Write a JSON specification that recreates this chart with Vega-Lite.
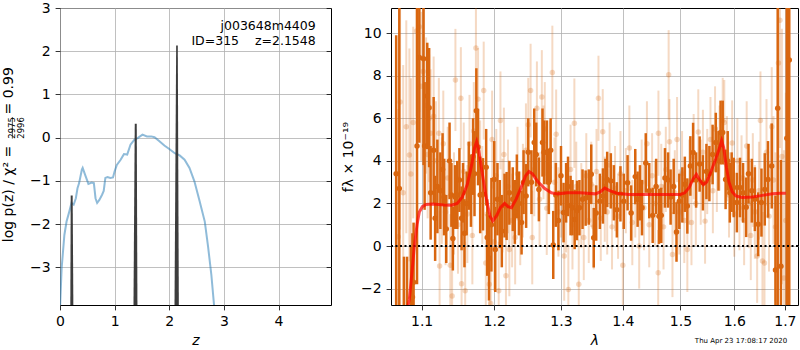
{
  "$schema": "https://vega.github.io/schema/vega-lite/v6.json",
  "background": "white",
  "padding": {"left": 1, "top": 0, "right": 0, "bottom": 0},
  "spacing": 9,
  "config": {
    "font": "DejaVu Sans",
    "view": {"stroke": "black", "strokeWidth": 1},
    "axis": {
      "domain": false, "grid": true, "gridColor": "#b0b0b0", "gridWidth": 0.8,
      "tickColor": "black", "tickSize": 4.9, "tickWidth": 0.8,
      "labelFont": "DejaVu Sans", "labelFontSize": 14, "labelColor": "black", "labelPadding": 4.9,
      "labelFlush": false, "labelOverlap": false,
      "titleFont": "DejaVu Sans", "titleFontSize": 14, "titleFontWeight": "normal", "titleColor": "black"
    }
  },
  "datasets": {
    "curve": [
      {"z":0.0,"lp":-3.95},{"z":0.03,"lp":-3.02},{"z":0.08,"lp":-2.25},{"z":0.12,"lp":-1.94},{"z":0.17,"lp":-1.71},
      {"z":0.21,"lp":-1.51},{"z":0.25,"lp":-1.55},{"z":0.29,"lp":-1.40},{"z":0.32,"lp":-1.17},{"z":0.35,"lp":-1.05},
      {"z":0.40,"lp":-0.74},{"z":0.415,"lp":-0.70},{"z":0.46,"lp":-0.86},{"z":0.52,"lp":-1.07},{"z":0.58,"lp":-1.04},
      {"z":0.62,"lp":-1.05},{"z":0.65,"lp":-1.40},{"z":0.68,"lp":-1.51},{"z":0.72,"lp":-1.44},{"z":0.77,"lp":-1.32},
      {"z":0.80,"lp":-1.23},{"z":0.83,"lp":-0.93},{"z":0.87,"lp":-0.91},{"z":0.92,"lp":-0.93},{"z":0.97,"lp":-0.92},
      {"z":1.0,"lp":-0.78},{"z":1.04,"lp":-0.63},{"z":1.11,"lp":-0.51},{"z":1.17,"lp":-0.38},{"z":1.23,"lp":-0.39},
      {"z":1.29,"lp":-0.16},{"z":1.36,"lp":-0.05},{"z":1.42,"lp":-0.01},{"z":1.51,"lp":0.07},{"z":1.59,"lp":0.03},
      {"z":1.67,"lp":0.03},{"z":1.73,"lp":0.01},{"z":1.82,"lp":-0.08},{"z":1.91,"lp":-0.18},{"z":2.00,"lp":-0.26},
      {"z":2.10,"lp":-0.36},{"z":2.19,"lp":-0.41},{"z":2.28,"lp":-0.51},{"z":2.37,"lp":-0.70},{"z":2.46,"lp":-1.01},
      {"z":2.55,"lp":-1.44},{"z":2.65,"lp":-1.94},{"z":2.71,"lp":-2.52},{"z":2.77,"lp":-3.17},{"z":2.82,"lp":-3.88},
      {"z":2.86,"lp":-4.5}
    ],
    "spikes": [
      {"k":1,"z":0.188,"lp":-4.2},{"k":1,"z":0.196,"lp":-1.34},{"k":1,"z":0.232,"lp":-1.34},{"k":1,"z":0.246,"lp":-4.2},
      {"k":2,"z":1.343,"lp":-4.2},{"k":2,"z":1.368,"lp":0.32},{"k":2,"z":1.405,"lp":0.32},{"k":2,"z":1.418,"lp":-4.2},
      {"k":3,"z":2.094,"lp":-4.2},{"k":3,"z":2.126,"lp":2.13},{"k":3,"z":2.156,"lp":2.13},{"k":3,"z":2.176,"lp":-4.2}
    ],
    "model": [
      {"l":1.078,"f":-3.5},{"l":1.084,"f":-2.5},{"l":1.088,"f":-1.0},{"l":1.0905,"f":0},{"l":1.094,"f":1.0},
      {"l":1.097,"f":1.6},{"l":1.101,"f":1.85},{"l":1.106,"f":1.95},{"l":1.115,"f":1.97},{"l":1.13,"f":1.93},
      {"l":1.14,"f":1.92},{"l":1.148,"f":2.0},{"l":1.155,"f":2.3},{"l":1.162,"f":2.9},{"l":1.168,"f":3.8},
      {"l":1.172,"f":4.6},{"l":1.175,"f":4.9},{"l":1.178,"f":4.5},{"l":1.183,"f":3.4},{"l":1.189,"f":2.2},
      {"l":1.194,"f":1.4},{"l":1.198,"f":1.18},{"l":1.203,"f":1.4},{"l":1.209,"f":1.8},{"l":1.215,"f":2.0},
      {"l":1.220,"f":1.85},{"l":1.225,"f":1.8},{"l":1.232,"f":2.2},{"l":1.240,"f":2.8},{"l":1.246,"f":3.3},
      {"l":1.251,"f":3.5},{"l":1.256,"f":3.4},{"l":1.265,"f":3.0},{"l":1.275,"f":2.7},{"l":1.285,"f":2.5},
      {"l":1.295,"f":2.45},{"l":1.31,"f":2.5},{"l":1.33,"f":2.5},{"l":1.355,"f":2.45},{"l":1.363,"f":2.55},
      {"l":1.370,"f":2.72},{"l":1.378,"f":2.6},{"l":1.39,"f":2.48},{"l":1.41,"f":2.42},{"l":1.45,"f":2.42},
      {"l":1.50,"f":2.42},{"l":1.508,"f":2.5},{"l":1.516,"f":2.75},{"l":1.523,"f":3.15},{"l":1.529,"f":3.37},
      {"l":1.535,"f":3.1},{"l":1.542,"f":2.88},{"l":1.548,"f":3.0},{"l":1.556,"f":3.5},{"l":1.565,"f":4.1},
      {"l":1.572,"f":4.6},{"l":1.576,"f":4.95},{"l":1.580,"f":4.6},{"l":1.585,"f":3.7},{"l":1.590,"f":3.0},
      {"l":1.596,"f":2.55},{"l":1.603,"f":2.35},{"l":1.615,"f":2.28},{"l":1.635,"f":2.3},{"l":1.655,"f":2.38},
      {"l":1.675,"f":2.45},{"l":1.69,"f":2.48},{"l":1.702,"f":2.48}
    ],
    "dark": [
      {"l":1.067,"f":3.4,"e":6.5},{"l":1.071,"f":2.7,"e":10},{"l":1.077,"f":-4.0,"e":3.5},{"l":1.081,"f":-3.5,"e":3.0},
      {"l":1.086,"f":-3.0,"e":3.0},{"l":1.088,"f":-2.4,"e":3.0},{"l":1.0895,"f":-1.7,"e":2.8},{"l":1.094,"f":4.7,"e":6.5},
      {"l":1.097,"f":8.85,"e":4.0},{"l":1.1026,"f":8.8,"e":5.0},{"l":1.104,"f":4.7,"e":3.0},{"l":1.1075,"f":7.05,"e":2.5},
      {"l":1.110,"f":6.5,"e":2.8},{"l":1.112,"f":2.5,"e":2.2},{"l":1.116,"f":4.5,"e":2.5},{"l":1.118,"f":1.3,"e":2.0},
      {"l":1.121,"f":2.8,"e":2.2},{"l":1.125,"f":2.6,"e":1.8},{"l":1.128,"f":3.6,"e":1.7},{"l":1.130,"f":2.3,"e":1.8},
      {"l":1.133,"f":0.8,"e":1.6},{"l":1.1375,"f":4.0,"e":1.8},{"l":1.140,"f":2.4,"e":1.5},{"l":1.142,"f":0.35,"e":1.5},
      {"l":1.145,"f":2.3,"e":1.5},{"l":1.148,"f":2.4,"e":1.6},{"l":1.151,"f":3.1,"e":1.5},{"l":1.154,"f":1.3,"e":1.5},
      {"l":1.156,"f":2.5,"e":1.4},{"l":1.158,"f":0.6,"e":1.6},{"l":1.161,"f":2.0,"e":1.5},{"l":1.164,"f":3.3,"e":1.6},
      {"l":1.167,"f":2.6,"e":1.7},{"l":1.170,"f":4.2,"e":1.8},{"l":1.172,"f":3.4,"e":2.0},{"l":1.1746,"f":6.35,"e":2.0},
      {"l":1.177,"f":4.65,"e":1.8},{"l":1.180,"f":2.4,"e":1.8},{"l":1.184,"f":2.43,"e":1.7},{"l":1.1885,"f":3.7,"e":1.8},
      {"l":1.190,"f":0.4,"e":1.8},{"l":1.1925,"f":-0.56,"e":2.0},{"l":1.196,"f":1.0,"e":2.2},{"l":1.200,"f":3.13,"e":1.8},
      {"l":1.2015,"f":-0.16,"e":2.0},{"l":1.2047,"f":2.2,"e":1.7},{"l":1.208,"f":1.5,"e":1.6},{"l":1.211,"f":0.7,"e":1.7},
      {"l":1.215,"f":1.9,"e":1.5},{"l":1.218,"f":1.88,"e":1.6},{"l":1.222,"f":2.5,"e":1.5},{"l":1.227,"f":2.2,"e":1.5},
      {"l":1.230,"f":1.6,"e":1.5},{"l":1.233,"f":2.8,"e":1.5},{"l":1.236,"f":2.0,"e":1.5},{"l":1.240,"f":1.1,"e":1.5},
      {"l":1.243,"f":3.0,"e":1.5},{"l":1.2468,"f":2.35,"e":1.5},{"l":1.250,"f":4.4,"e":1.6},{"l":1.2548,"f":3.0,"e":1.5},
      {"l":1.259,"f":4.86,"e":1.6},{"l":1.262,"f":4.3,"e":1.5},{"l":1.266,"f":2.66,"e":1.5},{"l":1.2715,"f":4.86,"e":1.6},
      {"l":1.274,"f":4.4,"e":1.5},{"l":1.278,"f":4.4,"e":1.5},{"l":1.281,"f":3.0,"e":1.5},{"l":1.284,"f":4.5,"e":1.5},
      {"l":1.288,"f":0.05,"e":1.6},{"l":1.292,"f":2.4,"e":1.5},{"l":1.296,"f":1.2,"e":1.4},{"l":1.300,"f":3.3,"e":1.4},
      {"l":1.304,"f":1.57,"e":1.4},{"l":1.308,"f":2.5,"e":1.4},{"l":1.311,"f":2.8,"e":1.4},{"l":1.315,"f":1.9,"e":1.4},
      {"l":1.318,"f":1.8,"e":1.3},{"l":1.3215,"f":1.25,"e":1.4},{"l":1.3253,"f":1.67,"e":1.4},{"l":1.329,"f":1.8,"e":1.3},
      {"l":1.334,"f":2.2,"e":1.4},{"l":1.339,"f":2.25,"e":1.3},{"l":1.344,"f":2.3,"e":1.3},{"l":1.348,"f":3.37,"e":1.4},
      {"l":1.352,"f":0.39,"e":1.4},{"l":1.356,"f":1.55,"e":1.3},{"l":1.362,"f":2.1,"e":1.3},{"l":1.367,"f":2.35,"e":1.3},
      {"l":1.371,"f":2.8,"e":1.3},{"l":1.374,"f":3.13,"e":1.3},{"l":1.380,"f":3.06,"e":1.3},{"l":1.385,"f":2.5,"e":1.3},
      {"l":1.390,"f":1.7,"e":1.3},{"l":1.396,"f":2.45,"e":1.3},{"l":1.4015,"f":2.1,"e":1.3},{"l":1.408,"f":2.97,"e":1.3},
      {"l":1.414,"f":1.55,"e":1.3},{"l":1.421,"f":3.26,"e":1.3},{"l":1.425,"f":2.2,"e":1.3},{"l":1.429,"f":2.5,"e":1.3},
      {"l":1.4325,"f":1.8,"e":1.3},{"l":1.439,"f":3.9,"e":1.4},{"l":1.445,"f":2.6,"e":1.3},{"l":1.451,"f":1.44,"e":1.3},
      {"l":1.457,"f":2.8,"e":1.3},{"l":1.462,"f":1.4,"e":1.3},{"l":1.466,"f":1.44,"e":1.3},{"l":1.4725,"f":3.2,"e":1.4},
      {"l":1.478,"f":3.1,"e":1.3},{"l":1.4825,"f":2.3,"e":1.3},{"l":1.488,"f":2.8,"e":1.3},{"l":1.493,"f":0.66,"e":1.4},
      {"l":1.498,"f":2.1,"e":1.3},{"l":1.5035,"f":2.4,"e":1.3},{"l":1.508,"f":2.9,"e":1.3},{"l":1.5125,"f":1.88,"e":1.3},
      {"l":1.518,"f":3.76,"e":1.4},{"l":1.523,"f":4.39,"e":1.4},{"l":1.5285,"f":3.1,"e":1.3},{"l":1.535,"f":3.85,"e":1.3},
      {"l":1.541,"f":2.97,"e":1.3},{"l":1.5475,"f":3.5,"e":1.3},{"l":1.553,"f":3.4,"e":1.3},{"l":1.559,"f":4.3,"e":1.4},
      {"l":1.565,"f":4.86,"e":1.4},{"l":1.570,"f":4.0,"e":1.4},{"l":1.574,"f":5.33,"e":1.5},{"l":1.578,"f":5.33,"e":1.5},
      {"l":1.5835,"f":3.13,"e":1.4},{"l":1.5875,"f":4.0,"e":1.4},{"l":1.5915,"f":2.5,"e":1.4},{"l":1.595,"f":3.0,"e":1.4},
      {"l":1.599,"f":2.75,"e":1.4},{"l":1.605,"f":2.04,"e":1.4},{"l":1.611,"f":2.75,"e":1.4},{"l":1.617,"f":2.5,"e":1.4},
      {"l":1.623,"f":1.82,"e":1.4},{"l":1.6275,"f":3.4,"e":1.4},{"l":1.634,"f":2.6,"e":1.5},{"l":1.640,"f":2.2,"e":1.5},
      {"l":1.6465,"f":1.02,"e":1.5},{"l":1.653,"f":2.04,"e":1.6},{"l":1.6595,"f":2.66,"e":1.7},{"l":1.666,"f":3.13,"e":1.8},
      {"l":1.6735,"f":3.76,"e":2.0},{"l":1.681,"f":-1.13,"e":3.5},{"l":1.6855,"f":6.47,"e":9.5},{"l":1.692,"f":-0.95,"e":5.0},
      {"l":1.704,"f":5.06,"e":20},{"l":1.709,"f":8.74,"e":20}
    ],
    "light": [
      {"l":1.0697,"f":0.44,"e":6.0},{"l":1.072,"f":6.77,"e":6.0},{"l":1.076,"f":2.5,"e":6.0},{"l":1.080,"f":5.6,"e":5.0},
      {"l":1.084,"f":4.28,"e":5.0},{"l":1.086,"f":3.38,"e":4.5},{"l":1.089,"f":5.8,"e":4.5},{"l":1.0935,"f":10.1,"e":4.0},
      {"l":1.097,"f":10.3,"e":4.0},{"l":1.0995,"f":7.5,"e":3.5},{"l":1.102,"f":8.2,"e":3.5},{"l":1.106,"f":6.6,"e":3.2},
      {"l":1.108,"f":4.3,"e":3.0},{"l":1.110,"f":6.0,"e":3.0},{"l":1.112,"f":5.3,"e":3.0},{"l":1.116,"f":6.1,"e":2.8},
      {"l":1.119,"f":4.0,"e":2.8},{"l":1.123,"f":5.3,"e":2.6},{"l":1.124,"f":-0.94,"e":2.6},{"l":1.127,"f":2.6,"e":2.5},
      {"l":1.129,"f":4.8,"e":2.5},{"l":1.132,"f":1.6,"e":2.5},{"l":1.135,"f":3.2,"e":2.4},{"l":1.1385,"f":-0.9,"e":2.4},
      {"l":1.141,"f":-2.35,"e":2.4},{"l":1.1435,"f":2.0,"e":2.4},{"l":1.1455,"f":7.8,"e":2.4},{"l":1.149,"f":1.0,"e":2.3},
      {"l":1.153,"f":6.94,"e":2.4},{"l":1.154,"f":-1.77,"e":2.3},{"l":1.157,"f":3.5,"e":2.3},{"l":1.159,"f":-2.1,"e":2.3},
      {"l":1.162,"f":1.5,"e":2.3},{"l":1.165,"f":4.8,"e":2.3},{"l":1.169,"f":0.5,"e":2.3},{"l":1.171,"f":5.4,"e":2.3},
      {"l":1.174,"f":9.3,"e":2.4},{"l":1.177,"f":6.9,"e":2.4},{"l":1.180,"f":3.6,"e":2.3},{"l":1.183,"f":2.4,"e":2.3},
      {"l":1.185,"f":7.3,"e":2.3},{"l":1.188,"f":-0.8,"e":2.3},{"l":1.190,"f":1.5,"e":2.3},{"l":1.193,"f":-1.8,"e":2.3},
      {"l":1.195,"f":-2.7,"e":2.5},{"l":1.197,"f":5.0,"e":2.3},{"l":1.200,"f":0.2,"e":2.3},{"l":1.203,"f":3.3,"e":2.2},
      {"l":1.2065,"f":-2.1,"e":2.3},{"l":1.209,"f":5.9,"e":2.3},{"l":1.212,"f":1.9,"e":2.2},{"l":1.214,"f":4.3,"e":2.2},
      {"l":1.217,"f":-1.4,"e":2.2},{"l":1.220,"f":2.8,"e":2.2},{"l":1.222,"f":-0.16,"e":2.2},{"l":1.226,"f":1.2,"e":2.2},
      {"l":1.2305,"f":0.4,"e":2.2},{"l":1.234,"f":3.4,"e":2.2},{"l":1.238,"f":1.3,"e":2.2},{"l":1.242,"f":2.6,"e":2.2},
      {"l":1.2465,"f":4.5,"e":2.2},{"l":1.250,"f":5.7,"e":2.2},{"l":1.2535,"f":7.3,"e":2.2},{"l":1.256,"f":0.4,"e":2.2},
      {"l":1.259,"f":3.6,"e":2.2},{"l":1.263,"f":6.47,"e":2.2},{"l":1.267,"f":2.2,"e":2.2},{"l":1.2705,"f":7.0,"e":2.2},
      {"l":1.273,"f":4.4,"e":2.2},{"l":1.275,"f":5.5,"e":2.2},{"l":1.278,"f":1.78,"e":2.2},{"l":1.282,"f":3.7,"e":2.2},
      {"l":1.2866,"f":8.15,"e":2.2},{"l":1.290,"f":3.0,"e":2.1},{"l":1.2925,"f":5.25,"e":2.1},{"l":1.296,"f":1.6,"e":2.1},
      {"l":1.300,"f":2.5,"e":2.1},{"l":1.305,"f":-0.47,"e":2.1},{"l":1.308,"f":1.8,"e":2.1},{"l":1.3115,"f":-2.04,"e":2.1},
      {"l":1.315,"f":3.6,"e":2.1},{"l":1.318,"f":1.0,"e":2.1},{"l":1.321,"f":5.77,"e":2.1},{"l":1.324,"f":2.8,"e":2.1},
      {"l":1.328,"f":-1.8,"e":2.1},{"l":1.332,"f":1.9,"e":2.0},{"l":1.336,"f":0.4,"e":2.0},{"l":1.340,"f":3.3,"e":2.0},
      {"l":1.344,"f":1.2,"e":2.0},{"l":1.348,"f":2.9,"e":2.0},{"l":1.352,"f":0.9,"e":2.0},{"l":1.3565,"f":3.5,"e":2.0},
      {"l":1.3597,"f":6.94,"e":2.0},{"l":1.3635,"f":1.3,"e":2.0},{"l":1.3667,"f":5.37,"e":2.0},{"l":1.370,"f":2.2,"e":2.0},
      {"l":1.374,"f":1.6,"e":2.0},{"l":1.378,"f":3.8,"e":2.0},{"l":1.382,"f":0.9,"e":2.0},{"l":1.387,"f":2.7,"e":2.0},
      {"l":1.392,"f":1.4,"e":2.0},{"l":1.396,"f":3.4,"e":2.0},{"l":1.400,"f":-0.9,"e":2.0},{"l":1.405,"f":2.6,"e":2.0},
      {"l":1.411,"f":4.6,"e":2.0},{"l":1.416,"f":1.1,"e":2.0},{"l":1.421,"f":2.4,"e":2.0},{"l":1.4277,"f":0.0,"e":2.0},
      {"l":1.432,"f":3.0,"e":2.0},{"l":1.436,"f":1.8,"e":2.0},{"l":1.441,"f":4.8,"e":2.0},{"l":1.445,"f":1.0,"e":2.0},
      {"l":1.450,"f":3.3,"e":2.0},{"l":1.455,"f":2.0,"e":2.0},{"l":1.4606,"f":-1.25,"e":2.0},{"l":1.461,"f":5.3,"e":2.0},
      {"l":1.466,"f":2.8,"e":2.0},{"l":1.470,"f":0.9,"e":2.0},{"l":1.474,"f":3.6,"e":2.0},{"l":1.479,"f":8.04,"e":2.1},
      {"l":1.4805,"f":4.9,"e":2.0},{"l":1.4858,"f":-0.4,"e":2.0},{"l":1.490,"f":2.5,"e":2.0},{"l":1.494,"f":5.0,"e":2.0},
      {"l":1.498,"f":1.6,"e":2.0},{"l":1.503,"f":3.4,"e":2.0},{"l":1.507,"f":1.2,"e":2.0},{"l":1.5125,"f":-0.16,"e":2.0},
      {"l":1.516,"f":3.0,"e":2.0},{"l":1.520,"f":1.1,"e":2.0},{"l":1.524,"f":4.2,"e":2.0},{"l":1.528,"f":2.0,"e":2.0},
      {"l":1.5325,"f":5.36,"e":2.0},{"l":1.537,"f":3.0,"e":2.0},{"l":1.541,"f":4.4,"e":2.0},{"l":1.545,"f":1.17,"e":2.0},
      {"l":1.549,"f":3.5,"e":2.0},{"l":1.555,"f":5.0,"e":2.0},{"l":1.5595,"f":2.6,"e":2.0},{"l":1.5636,"f":5.5,"e":2.0},
      {"l":1.567,"f":3.6,"e":2.0},{"l":1.572,"f":4.6,"e":2.0},{"l":1.578,"f":5.9,"e":2.0},{"l":1.581,"f":5.8,"e":2.0},
      {"l":1.586,"f":4.1,"e":2.0},{"l":1.590,"f":2.4,"e":2.0},{"l":1.596,"f":4.84,"e":2.0},{"l":1.600,"f":1.5,"e":2.0},
      {"l":1.606,"f":4.0,"e":2.0},{"l":1.610,"f":1.8,"e":2.0},{"l":1.614,"f":3.2,"e":2.0},{"l":1.619,"f":1.2,"e":2.1},
      {"l":1.624,"f":4.7,"e":2.1},{"l":1.628,"f":2.0,"e":2.1},{"l":1.632,"f":0.5,"e":2.1},{"l":1.636,"f":3.1,"e":2.2},
      {"l":1.640,"f":1.6,"e":2.2},{"l":1.6445,"f":-0.47,"e":2.2},{"l":1.648,"f":2.6,"e":2.3},{"l":1.651,"f":5.9,"e":2.3},
      {"l":1.655,"f":-0.7,"e":2.3},{"l":1.659,"f":-0.8,"e":2.4},{"l":1.663,"f":4.4,"e":2.5},{"l":1.668,"f":1.4,"e":2.6},
      {"l":1.6735,"f":5.6,"e":2.8},{"l":1.677,"f":3.1,"e":3.0},{"l":1.681,"f":0.9,"e":3.5},{"l":1.687,"f":8.6,"e":5.0},
      {"l":1.690,"f":10.6,"e":6.0},{"l":1.694,"f":4.2,"e":6.0},{"l":1.698,"f":-1.5,"e":6.0},{"l":1.702,"f":1.2,"e":6.0}
    ]
  },
  "hconcat": [
    {
      "width": 271,
      "height": 297,
      "resolve": {"axis": {"y": "independent"}},
      "layer": [
        {
          "data": {"name": "curve"},
          "mark": {"type": "line", "color": "#1f77b4", "opacity": 0.5, "strokeWidth": 2, "clip": true},
          "encoding": {
            "x": {"field": "z", "type": "quantitative", "scale": {"domain": [0, 4.96], "nice": false, "zero": false},
                  "axis": {"values": [0, 1, 2, 3, 4], "title": "z", "titleFontStyle": "italic", "titlePadding": 5}},
            "y": {"field": "lp", "type": "quantitative", "scale": {"domain": [-3.87, 3], "nice": false, "zero": false},
                  "axis": {"values": [-3, -2, -1, 0, 1, 2, 3], "title": null}}
          }
        },
        {
          "data": {"name": "spikes"},
          "mark": {"type": "area", "color": "#333333", "opacity": 0.95, "clip": true},
          "encoding": {
            "x": {"field": "z", "type": "quantitative", "title": "z"},
            "y": {"field": "lp", "type": "quantitative", "stack": null,
                  "axis": {"orient": "right", "values": [-3, -2, -1, 0, 1, 2, 3], "labels": false, "grid": false, "tickSize": -4.9, "title": null}},
            "y2": {"datum": -4.2},
            "detail": {"field": "k", "type": "nominal"}
          }
        },
        {
          "data": {"values": [{}]},
          "mark": {"type": "text", "align": "right", "baseline": "middle", "fontSize": 12.5, "font": "DejaVu Sans", "color": "black"},
          "encoding": {
            "x": {"datum": 4.68},
            "y": {"datum": 2.59, "axis": null},
            "text": {"value": "j003648m4409"}
          }
        },
        {
          "data": {"values": [{}]},
          "mark": {"type": "text", "align": "right", "baseline": "middle", "fontSize": 12.5, "font": "DejaVu Sans", "color": "black"},
          "encoding": {
            "x": {"datum": 4.68},
            "y": {"datum": 2.24, "axis": null},
            "text": {"value": "ID=315\u00a0\u00a0\u00a0\u00a0z=2.1548"}
          }
        },
        {
          "data": {"values": [{}]},
          "mark": {"type": "text", "align": "center", "baseline": "middle", "angle": 270, "fontSize": 14, "font": "DejaVu Sans", "color": "black", "clip": false},
          "encoding": {
            "x": {"datum": -0.925},
            "y": {"datum": -1.302, "axis": null},
            "text": {"value": "log p(z) / χ² ="}
          }
        },
        {
          "data": {"values": [{}]},
          "mark": {"type": "text", "align": "center", "baseline": "middle", "angle": 270, "fontSize": 14, "font": "DejaVu Sans", "color": "black", "clip": false},
          "encoding": {
            "x": {"datum": -0.925},
            "y": {"datum": 1.084, "axis": null},
            "text": {"value": "= 0.99"}
          }
        },
        {
          "data": {"values": [{}]},
          "mark": {"type": "text", "align": "center", "baseline": "middle", "angle": 270, "fontSize": 8.5, "lineHeight": 8.5, "font": "DejaVu Sans", "color": "black", "clip": false},
          "encoding": {
            "x": {"datum": -0.872},
            "y": {"datum": 0.227, "axis": null},
            "text": {"value": ["2975", "2996"]}
          }
        },
        {
          "data": {"values": [{}]},
          "mark": {"type": "rule", "color": "black", "strokeWidth": 0.7, "clip": false},
          "encoding": {
            "x": {"datum": -0.872},
            "y": {"datum": -0.02, "axis": null},
            "y2": {"datum": 0.475}
          }
        }
      ]
    },
    {
      "width": 407,
      "height": 297,
      "layer": [
        {
          "data": {"name": "light"},
          "mark": {"type": "errorbar", "color": "#d9660f", "opacity": 0.25, "thickness": 2, "clip": true},
          "encoding": {
            "x": {"field": "l", "type": "quantitative", "title": "λ", "scale": {"type": "log", "domain": [1.0604, 1.727], "nice": false, "zero": false},
                  "axis": {"values": [1.1, 1.2, 1.3, 1.4, 1.5, 1.6, 1.7], "format": ".1f", "titleFontStyle": "italic", "titlePadding": 5}},
            "y": {"field": "f", "type": "quantitative", "title": "fλ × 10⁻¹⁹", "scale": {"domain": [-2.77, 11.18], "nice": false, "zero": false},
                  "axis": {"values": [-2, 0, 2, 4, 6, 8, 10], "titlePadding": 5}},
            "yError": {"field": "e"}
          }
        },
        {
          "data": {"name": "light"},
          "mark": {"type": "point", "filled": true, "size": 30, "color": "#d9660f", "opacity": 0.25, "clip": true},
          "encoding": {
            "x": {"field": "l", "type": "quantitative", "title": "λ"},
            "y": {"field": "f", "type": "quantitative", "title": "fλ × 10⁻¹⁹"}
          }
        },
        {
          "data": {"name": "dark"},
          "mark": {"type": "errorbar", "color": "#d9660f", "opacity": 1, "thickness": 2.5, "clip": true},
          "encoding": {
            "x": {"field": "l", "type": "quantitative", "title": "λ"},
            "y": {"field": "f", "type": "quantitative", "title": "fλ × 10⁻¹⁹"},
            "yError": {"field": "e"}
          }
        },
        {
          "data": {"name": "dark"},
          "mark": {"type": "point", "filled": true, "size": 30, "color": "#d9660f", "opacity": 1, "clip": true},
          "encoding": {
            "x": {"field": "l", "type": "quantitative", "title": "λ"},
            "y": {"field": "f", "type": "quantitative", "title": "fλ × 10⁻¹⁹"}
          }
        },
        {
          "data": {"values": [{}]},
          "mark": {"type": "rule", "color": "black", "strokeWidth": 2, "strokeDash": [2, 2.5]},
          "encoding": {"y": {"datum": 0}}
        },
        {
          "data": {"name": "model"},
          "mark": {"type": "line", "color": "red", "opacity": 0.7, "strokeWidth": 3, "clip": true},
          "encoding": {
            "x": {"field": "l", "type": "quantitative", "title": "λ"},
            "y": {"field": "f", "type": "quantitative", "title": "fλ × 10⁻¹⁹"}
          }
        },
        {
          "data": {"values": [{}]},
          "mark": {"type": "text", "align": "center", "baseline": "middle", "fontSize": 7, "font": "DejaVu Sans", "color": "black", "clip": false},
          "encoding": {
            "x": {"datum": 1.613},
            "y": {"datum": -4.47},
            "text": {"value": "Thu Apr 23 17:08:17 2020"}
          }
        }
      ]
    }
  ]
}
